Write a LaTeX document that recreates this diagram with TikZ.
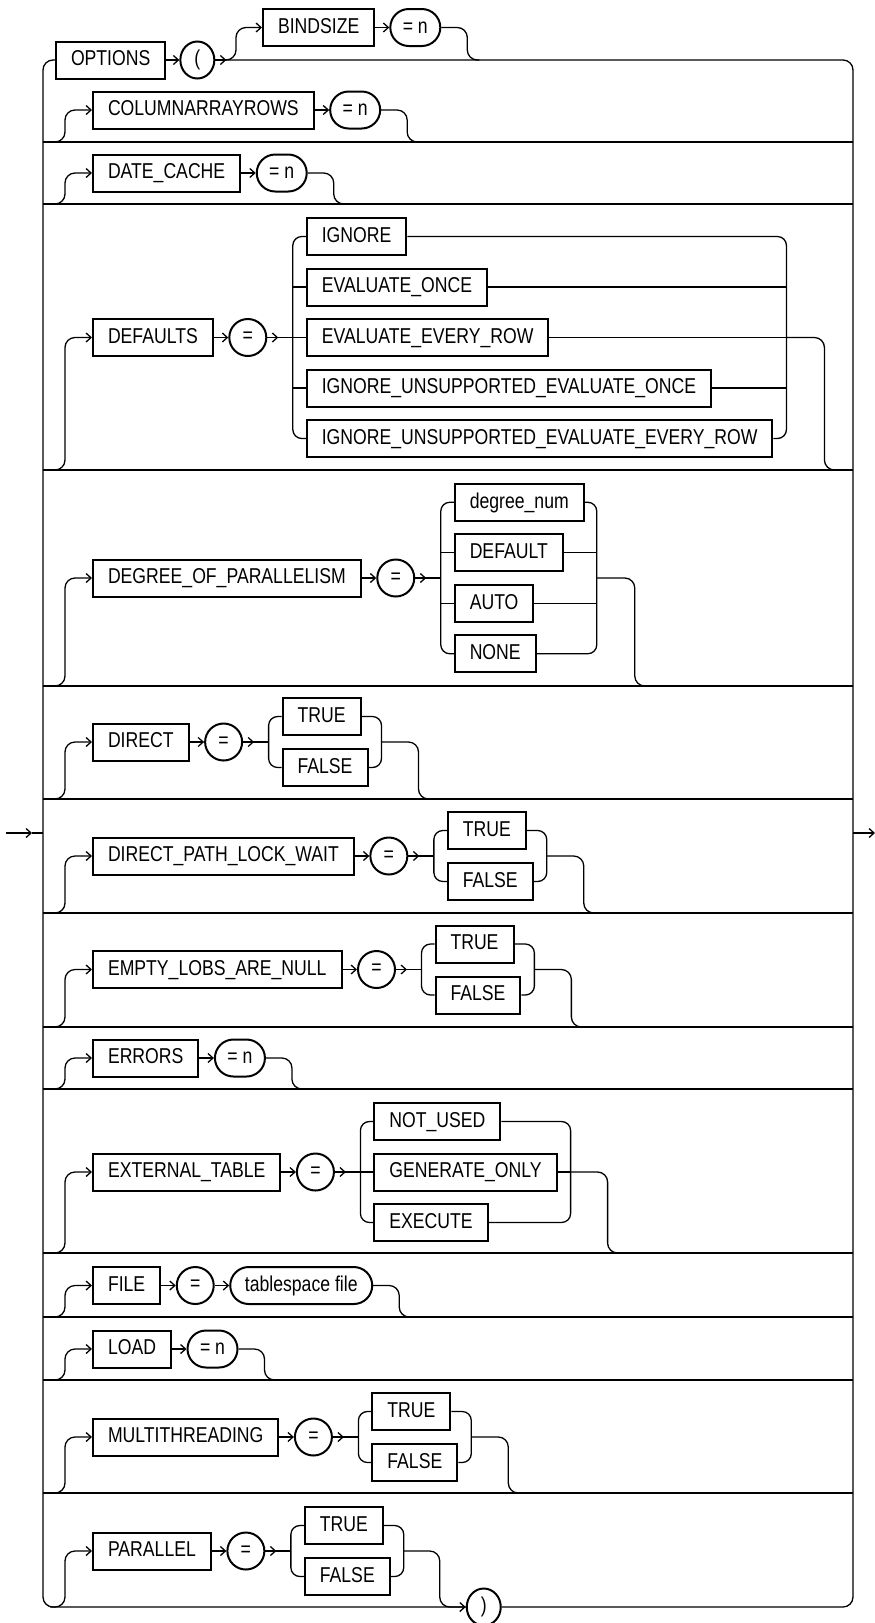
\documentclass[tikz,border=0pt]{standalone}
\usepackage{fontspec}
\newfontfamily\rrfont[FakeStretch=0.82]{Liberation Sans}
\newcommand\lbl{\rrfont\fontsize{21.5pt}{25pt}\selectfont}
\usetikzlibrary{arrows.meta,positioning,calc,shapes.geometric}
% left branch: ysep, yc, node
\newcommand\LBr[3]{\draw[conn,rounded corners=10pt,-{chv}] (50,#1) -- (65,#1) -- (65,#2) -- (#3.west);}
% right branch: start, dx, dy
\newcommand\RBr[3]{\draw[conn,rounded corners=10pt] (#1) -- ++(#2,0) -- ++(0,#3) -- ++(12,0);}
% TRUE/FALSE choice: prefix, eq node
\newcommand\TFcore[2]{%
  \coordinate (#1L) at ($(#2.east)+(25.5,0)$);
  \node[kw,anchor=west] (#1T) at ($(#1L)+(13,-25.5)$) {TRUE};
  \node[kw,anchor=west] (#1F) at ($(#1L)+(13,25.5)$) {FALSE};
  \coordinate (#1R) at ($(#1F.east)+(13,0)$);
  \draw[conn,-{chv}] (#2.east) -- ++(11,0);
  \draw[conn] (#2.east) -- (#1L);
  \draw[conn,rounded corners=9pt] (#1T.west) -- (#1L |- #1T.west) -- (#1L |- #1F.west) -- (#1F.west);
  \draw[conn,rounded corners=9pt] (#1T.east) -- (#1R |- #1T.east) -- (#1R |- #1F.east) -- (#1F.east);
}
% prefix, eq node, dy
\newcommand\TFrow[3]{\TFcore{#1}{#2}%
  \draw[conn,rounded corners=10pt] (#1R |- #2.east) -- ++(37,0) -- ++(0,#3) -- ++(12,0);}
\begin{document}
\begin{tikzpicture}[x=1pt,y=-1pt,
  conn/.style={line width=1.3pt},
  kw/.style={draw,rectangle,line width=2pt,minimum height=37pt,inner xsep=15pt,inner ysep=0pt,text height=16pt,text depth=4.5pt,font=\lbl},
  term/.style={draw,rectangle,rounded corners=18.5pt,line width=2pt,minimum height=37pt,minimum width=50pt,inner xsep=12pt,inner ysep=0pt,text height=16pt,text depth=4.5pt,font=\lbl},
  eqc/.style={draw,circle,line width=2pt,minimum size=37pt,inner sep=0pt,font=\lbl},
  parc/.style={draw,ellipse,line width=2pt,minimum width=34pt,minimum height=37pt,inner sep=0pt,font=\lbl},
  chv/.tip={Straight Barb[length=5pt,width=9pt]}
]
\useasboundingbox (0,0) rectangle (875,1623);

% ---------- row 1: OPTIONS ( BINDSIZE
\node[kw,anchor=west] (opt) at (55,60) {OPTIONS};
\node[parc,right=13pt of opt] (lp) {(};
\draw[conn,-{chv}] (opt) -- (lp);
\coordinate (lpa) at ($(lp.east)+(11,0)$);
\draw[conn,-{chv}] (lp.east) -- (lpa);
\node[kw,anchor=west] (bind) at (262,27.5) {BINDSIZE};
\node[term,right=14pt of bind] (bindn) {= n};
\draw[conn,-{chv}] (bind) -- (bindn);
\draw[conn,rounded corners=10pt,-{chv}] (lpa) -- (236,60) -- (236,27.5) -- (bind.west);
\RBr{bindn.east}{26}{32.5}

% separators
\foreach \yy in {142,204,470,686,799,913,1027,1089,1253,1317,1380,1493}
  \draw[conn] (43,\yy) -- (853,\yy);

% ---------- row 2
\node[kw,anchor=west] (car) at (92,110) {COLUMNARRAYROWS};
\node[term,right=14.5pt of car] (carn) {= n};
\LBr{142}{110}{car}
\draw[conn,-{chv}] (car) -- (carn);
\RBr{carn.east}{26}{32}

% ---------- row 3
\node[kw,anchor=west] (dc) at (92,173) {DATE\_CACHE};
\node[term,right=14.5pt of dc] (dcn) {= n};
\LBr{204}{173}{dc}
\draw[conn,-{chv}] (dc) -- (dcn);
\RBr{dcn.east}{26}{31}

% ---------- row 4: DEFAULTS
\node[kw,anchor=west] (def) at (92,337.5) {DEFAULTS};
\node[eqc,right=14.5pt of def] (defq) {=};
\LBr{470}{337.5}{def}
\draw[conn,-{chv}] (def) -- (defq);
\coordinate (defL) at ($(defq.east)+(25.5,0)$);
\node[kw,anchor=west] (dc1) at ($(defL)+(13,-101)$) {IGNORE};
\node[kw,anchor=west] (dc2) at ($(defL)+(13,-50.5)$) {EVALUATE\_ONCE};
\node[kw,anchor=west] (dc3) at ($(defL)+(13,0)$) {EVALUATE\_EVERY\_ROW};
\node[kw,anchor=west] (dc4) at ($(defL)+(13,50.5)$) {IGNORE\_UNSUPPORTED\_EVALUATE\_ONCE};
\node[kw,anchor=west] (dc5) at ($(defL)+(13,101)$) {IGNORE\_UNSUPPORTED\_EVALUATE\_EVERY\_ROW};
\coordinate (defR) at ($(dc5.east)+(13,0)$);
\draw[conn,-{chv}] (defq.east) -- ++(11,0);
\draw[conn] (defq.east) -- (defL);
\draw[conn,rounded corners=9pt] (dc1.west) -- (defL |- dc1.west) -- (defL |- dc5.west) -- (dc5.west);
\draw[conn,rounded corners=9pt] (dc1.east) -- (defR |- dc1.east) -- (defR |- dc5.east) -- (dc5.east);
\foreach \n in {dc2,dc3,dc4}{
  \draw[conn] (defL |- \n.west) -- (\n.west);
  \draw[conn] (\n.east) -- (defR |- \n.east);
}
\draw[conn,rounded corners=10pt] (defR |- def.east) -- ++(38,0) -- ++(0,132.5) -- ++(12,0);

% ---------- row 5: DEGREE_OF_PARALLELISM
\node[kw,anchor=west] (dop) at (92,578) {DEGREE\_OF\_PARALLELISM};
\node[eqc,right=14.5pt of dop] (dopq) {=};
\LBr{686}{578}{dop}
\draw[conn,-{chv}] (dop) -- (dopq);
\coordinate (dopL) at ($(dopq.east)+(25.5,0)$);
\node[kw,anchor=west] (pd1) at ($(dopL)+(13,-75.75)$) {degree\_num};
\node[kw,anchor=west] (pd2) at ($(dopL)+(13,-25.25)$) {DEFAULT};
\node[kw,anchor=west] (pd3) at ($(dopL)+(13,25.25)$) {AUTO};
\node[kw,anchor=west] (pd4) at ($(dopL)+(13,75.75)$) {NONE};
\coordinate (dopR) at ($(pd1.east)+(12,0)$);
\draw[conn,-{chv}] (dopq.east) -- ++(11,0);
\draw[conn] (dopq.east) -- (dopL);
\draw[conn,rounded corners=9pt] (pd1.west) -- (dopL |- pd1.west) -- (dopL |- pd4.west) -- (pd4.west);
\draw[conn,rounded corners=9pt] (pd1.east) -- (dopR |- pd1.east) -- (dopR |- pd4.east) -- (pd4.east);
\foreach \n in {pd2,pd3}{
  \draw[conn] (dopL |- \n.west) -- (\n.west);
  \draw[conn] (\n.east) -- (dopR |- \n.east);
}
\draw[conn,rounded corners=10pt] (dopR |- dop.east) -- ++(38,0) -- ++(0,108) -- ++(12,0);

% ---------- row 6: DIRECT
\node[kw,anchor=west] (dir) at (92,742) {DIRECT};
\node[eqc,right=14.5pt of dir] (dirq) {=};
\LBr{799}{742}{dir}
\draw[conn,-{chv}] (dir) -- (dirq);
\TFrow{dir}{dirq}{57}

% ---------- row 7: DIRECT_PATH_LOCK_WAIT
\node[kw,anchor=west] (dpl) at (92,856) {DIRECT\_PATH\_LOCK\_WAIT};
\node[eqc,right=14.5pt of dpl] (dplq) {=};
\LBr{913}{856}{dpl}
\draw[conn,-{chv}] (dpl) -- (dplq);
\TFrow{dpl}{dplq}{57}

% ---------- row 8: EMPTY_LOBS_ARE_NULL
\node[kw,anchor=west] (eln) at (92,969.5) {EMPTY\_LOBS\_ARE\_NULL};
\node[eqc,right=14.5pt of eln] (elnq) {=};
\LBr{1027}{969.5}{eln}
\draw[conn,-{chv}] (eln) -- (elnq);
\TFrow{eln}{elnq}{57.5}

% ---------- row 9: ERRORS
\node[kw,anchor=west] (err) at (92,1058) {ERRORS};
\node[term,right=14.5pt of err] (errn) {= n};
\LBr{1089}{1058}{err}
\draw[conn,-{chv}] (err) -- (errn);
\RBr{errn.east}{26}{31}

% ---------- row 10: EXTERNAL_TABLE
\node[kw,anchor=west] (ext) at (92,1172) {EXTERNAL\_TABLE};
\node[eqc,right=14.5pt of ext] (extq) {=};
\LBr{1253}{1172}{ext}
\draw[conn,-{chv}] (ext) -- (extq);
\coordinate (extL) at ($(extq.east)+(25.5,0)$);
\node[kw,anchor=west] (ex1) at ($(extL)+(13,-50.5)$) {NOT\_USED};
\node[kw,anchor=west] (ex2) at ($(extL)+(13,0)$) {GENERATE\_ONLY};
\node[kw,anchor=west] (ex3) at ($(extL)+(13,50.5)$) {EXECUTE};
\coordinate (extR) at ($(ex2.east)+(13,0)$);
\draw[conn,-{chv}] (extq.east) -- ++(11,0);
\draw[conn] (extq.east) -- (extL);
\draw[conn,rounded corners=9pt] (ex1.west) -- (extL |- ex1.west) -- (extL |- ex3.west) -- (ex3.west);
\draw[conn,rounded corners=9pt] (ex1.east) -- (extR |- ex1.east) -- (extR |- ex3.east) -- (ex3.east);
\draw[conn] (extL |- ex2.west) -- (ex2.west);
\draw[conn] (ex2.east) -- (extR |- ex2.east);
\draw[conn,rounded corners=10pt] (extR |- ext.east) -- ++(37,0) -- ++(0,81) -- ++(12,0);

% ---------- row 11: FILE
\node[kw,anchor=west] (fil) at (92,1285.5) {FILE};
\node[eqc,right=14.5pt of fil] (filq) {=};
\node[term,minimum width=142pt,right=14.5pt of filq] (ts) {tablespace file};
\LBr{1317}{1285.5}{fil}
\draw[conn,-{chv}] (fil) -- (filq);
\draw[conn,-{chv}] (filq) -- (ts);
\RBr{ts.east}{26}{31.5}

% ---------- row 12: LOAD
\node[kw,anchor=west] (lod) at (92,1349) {LOAD};
\node[term,right=14.5pt of lod] (lodn) {= n};
\LBr{1380}{1349}{lod}
\draw[conn,-{chv}] (lod) -- (lodn);
\RBr{lodn.east}{26}{31}

% ---------- row 13: MULTITHREADING
\node[kw,anchor=west] (mth) at (92,1437) {MULTITHREADING};
\node[eqc,right=14.5pt of mth] (mthq) {=};
\LBr{1493}{1437}{mth}
\draw[conn,-{chv}] (mth) -- (mthq);
\TFrow{mth}{mthq}{56}

% ---------- row 14: PARALLEL
\node[kw,anchor=west] (par) at (92,1551) {PARALLEL};
\node[eqc,right=14.5pt of par] (parq) {=};
\LBr{1607}{1551}{par}
\draw[conn,-{chv}] (par) -- (parq);
\TFcore{par}{parq}
\node[parc,anchor=west] (rp) at ($(parR |- par.east)+(62,56)$) {)};
\draw[conn,rounded corners=10pt,-{chv}] (parR |- par.east) -- ++(36,0) -- ++(0,56) -- (rp.west);

% ---------- frame
\draw[conn,rounded corners=10pt] (opt.west) -- (43,60) -- (43,1607) -- (rp.west);
\draw[conn,rounded corners=10pt] (lp.east) -- (853,60) -- (853,1607) -- (rp.east);

% entry / exit
\coordinate (ein) at (6,833);
\coordinate (ea) at (32,833);
\coordinate (el) at (43,833);
\draw[conn,-{chv}] (ein) -- (ea);
\draw[conn] (ea) -- (el);
\coordinate (er) at (853,833);
\coordinate (eout) at (875,833);
\draw[conn,-{chv}] (er) -- (eout);
\end{tikzpicture}
\end{document}
